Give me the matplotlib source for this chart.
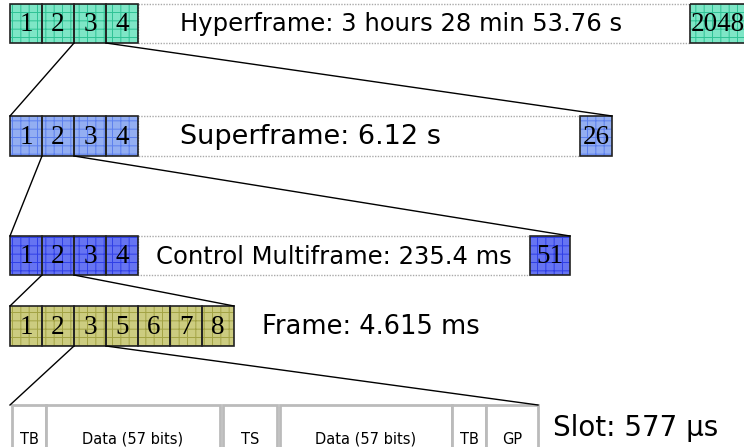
import matplotlib.pyplot as plt
from matplotlib.patches import Rectangle

plt.rcParams['hatch.linewidth'] = 0.7

# rows of the GSM frame hierarchy
hyper_boxes = ['1', '2', '3', '4']
hyper_last = '2048'
hyper_title = 'Hyperframe: 3 hours 28 min 53.76 s'

super_boxes = ['1', '2', '3', '4']
super_last = '26'
super_title = 'Superframe: 6.12 s'

multi_boxes = ['1', '2', '3', '4']
multi_last = '51'
multi_title = 'Control Multiframe: 235.4 ms'

frame_boxes = ['1', '2', '3', '5', '6', '7', '8']
frame_title = 'Frame: 4.615 ms'

slot_fields = ['TB', 'Data (57 bits)', 'TS', 'Data (57 bits)', 'TB', 'GP']
slot_title = 'Slot: 577 \u03bcs'

# layout (pixel units)
BW = 32
X0 = 10
rows = [
    dict(y0=4, y1=43, fc='#7ee6c6', hc='#2fc295', dot_end=690, lx=(690, 760), tx=180, fs=17.5),
    dict(y0=116, y1=156, fc='#93aef2', hc='#5d80ee', dot_end=580, lx=(580, 612), tx=180, fs=19.5),
    dict(y0=236, y1=275, fc='#6674f2', hc='#2f3fe6', dot_end=530, lx=(530, 570), tx=156, fs=17.5),
    dict(y0=306, y1=346, fc='#cccc80', hc='#a3a345', dot_end=None, lx=None, tx=262, fs=18.5),
]
slot_x = [(12, 46), (46, 220), (223, 277), (280, 452), (452, 486), (486, 538)]
slot_y = (405, 470)

fig = plt.figure(figsize=(7.44, 4.47), dpi=100)
ax = fig.add_axes([0, 0, 1, 1])
ax.set_xlim(0, 744)
ax.set_ylim(447, 0)
ax.axis('off')


def cell(x0, x1, y0, y1, fc, hc, label):
    ax.add_patch(Rectangle((x0, y0), x1 - x0, y1 - y0, facecolor=fc,
                           edgecolor=hc, hatch='++', lw=0, zorder=2))
    ax.add_patch(Rectangle((x0, y0), x1 - x0, y1 - y0, facecolor='none',
                           edgecolor='#222222', lw=1.2, zorder=3))
    if len(label) > 2:
        ax.text(x0 + 1, (y0 + y1) / 2 + 1, label, family='Liberation Serif',
                fontsize=19.5, ha='left', va='center', zorder=4)
    else:
        ax.text((x0 + x1) / 2, (y0 + y1) / 2 + 1, label, family='Liberation Serif',
                fontsize=19.5, ha='center', va='center', zorder=4)


labels_rows = [hyper_boxes, super_boxes, multi_boxes, frame_boxes]
lasts = [hyper_last, super_last, multi_last, None]
titles = [hyper_title, super_title, multi_title, frame_title]

for r, labs, last, title in zip(rows, labels_rows, lasts, titles):
    right = X0 + BW * len(labs)
    if r['dot_end'] is not None:
        ax.add_patch(Rectangle((right, r['y0']), r['dot_end'] - right,
                               r['y1'] - r['y0'], facecolor='white',
                               edgecolor='#aaaaaa', lw=1, ls=(0, (1, 1)), zorder=1))
    for i, lab in enumerate(labs):
        cell(X0 + i * BW, X0 + (i + 1) * BW, r['y0'], r['y1'], r['fc'], r['hc'], lab)
    if last is not None:
        cell(r['lx'][0], r['lx'][1], r['y0'], r['y1'], r['fc'], r['hc'], last)
    ax.text(r['tx'], (r['y0'] + r['y1']) / 2 + 1, title, fontsize=r['fs'],
            ha='left', va='center', zorder=4)

# slot fields
for (x0, x1), lab in zip(slot_x, slot_fields):
    ax.add_patch(Rectangle((x0, slot_y[0]), x1 - x0, slot_y[1] - slot_y[0],
                           facecolor='white', edgecolor='#bbbbbb', lw=2, zorder=2))
    ax.text((x0 + x1) / 2, 444, lab, fontsize=10.5, ha='center', va='baseline',
            zorder=4)
ax.text(553, 428, slot_title, fontsize=20, ha='left', va='center', zorder=4)

# zoom connectors: which box of each row expands into the next row
expand = [2, 1, 1, 2]
targets = [(10, 612), (10, 570), (10, 234), (10, 538)]
next_top = [116, 236, 306, 405]
for r, k, (tl, tr), ny in zip(rows, expand, targets, next_top):
    bx0 = X0 + k * BW
    ax.plot([bx0, tl], [r['y1'], ny], color='black', lw=1, zorder=5)
    ax.plot([bx0 + BW, tr], [r['y1'], ny], color='black', lw=1, zorder=5)

fig.savefig('out.png', dpi=100)
